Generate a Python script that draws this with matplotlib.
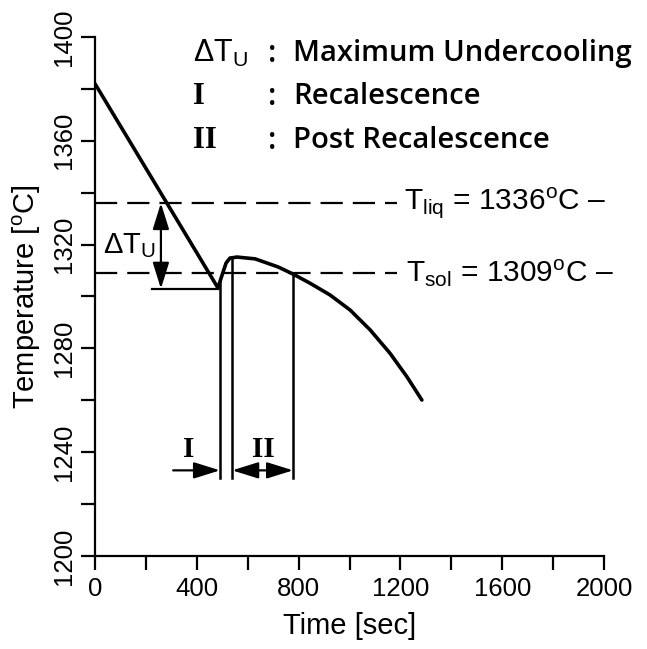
#----------------------------------------------------------------------------------------------------------------------
# Imports

import matplotlib
matplotlib.use("Agg")
import matplotlib.pyplot as plt

plt.rcParams['font.family'] = ['Liberation Sans', 'DejaVu Sans']
plt.rcParams['mathtext.fontset'] = 'custom'
plt.rcParams['mathtext.rm'] = 'Liberation Sans'
plt.rcParams['mathtext.it'] = 'Liberation Sans'

#----------------------------------------------------------------------------------------------------------------------
# Data

curve_t = [0, 483, 503, 515, 530, 558, 629, 719, 779, 845, 923, 1002, 1081, 1159, 1225, 1284]
curve_T = [1382, 1303.3, 1309.4, 1312.9, 1314.8, 1315.2, 1314.5, 1311.4, 1308.6, 1305.1, 1300.6, 1294.8,
           1287.1, 1278.1, 1269.1, 1260.1]

T_liq = 1336
T_sol = 1309
T_min = 1303
t_min = 483
dash_end = 1187

t_dT = 259          # undercooling arrow position
t_I = [307, 491]    # stage I arrow
t_II = [539, 778]   # stage II arrow
T_I_top = 1306
T_II_top = 1315.3
T_bottom = 1230
T_arrow = 1233

legend_sym = [r'$\Delta$T$_\mathrm{U}$', 'I', 'II']
legend_txt = ['Maximum Undercooling', 'Recalescence', 'Post Recalescence']
legend_T = [1393.5, 1377, 1360]

x_ticks = [0, 400, 800, 1200, 1600, 2000]
y_ticks = [1200, 1240, 1280, 1320, 1360, 1400]

#----------------------------------------------------------------------------------------------------------------------
# Figure

fig = plt.figure(figsize=(6.47, 6.49), dpi=100)
ax = fig.add_axes([0.1468, 0.1433, 0.787, 0.7997])

ax.plot(curve_t, curve_T, color='black', lw=2.6, solid_capstyle='round', solid_joinstyle='round')

# liquidus / solidus dashed lines
for T in [T_liq, T_sol]:
    ax.plot([0, dash_end], [T, T], color='black', lw=1.6, dashes=(10, 4.5))
ax.text(1214, T_liq, r'T$_\mathrm{liq}$ = 1336$^\mathrm{o}$C –', fontsize=21.5, va='center')
ax.text(1220, T_sol, r'T$_\mathrm{sol}$ = 1309$^\mathrm{o}$C –', fontsize=21.5, va='center')

# undercooling
ax.plot([t_dT - 35, t_min], [T_min, T_min], color='black', lw=1.6)
ax.annotate('', xy=(t_dT, T_min), xytext=(t_dT, T_liq),
            arrowprops=dict(arrowstyle='<|-|>,head_length=0.8,head_width=0.25', color='black',
                            lw=1.6, shrinkA=0, shrinkB=0, mutation_scale=20))
ax.text(30, 1319.5, r'$\Delta$T$_\mathrm{U}$', fontsize=21, va='center')

# stage boundaries
ax.plot([t_I[1], t_I[1]], [T_bottom, T_I_top], color='black', lw=1.8)
ax.plot([t_II[0], t_II[0]], [T_bottom, T_II_top], color='black', lw=1.8)
ax.plot([t_II[1], t_II[1]], [T_bottom, T_sol], color='black', lw=1.8)
ax.annotate('', xy=(t_I[1], T_arrow), xytext=(t_I[0], T_arrow),
            arrowprops=dict(arrowstyle='-|>,head_length=0.8,head_width=0.25', color='black',
                            lw=1.6, shrinkA=0, shrinkB=0, mutation_scale=20))
ax.annotate('', xy=(t_II[1], T_arrow), xytext=(t_II[0], T_arrow),
            arrowprops=dict(arrowstyle='<|-|>,head_length=0.8,head_width=0.25', color='black',
                            lw=1.6, shrinkA=0, shrinkB=0, mutation_scale=20))
ax.text(367, 1241, 'I', fontsize=21, family='Liberation Serif', weight='bold', ha='center', va='center')
ax.text(662, 1241, 'II', fontsize=21, family='Liberation Serif', weight='bold', ha='center', va='center')

# legend block
for s, txt, T in zip(legend_sym, legend_txt, legend_T):
    if s.startswith('$'):
        ax.text(385, T, s, fontsize=22, va='center')
    else:
        ax.text(385, T, s, fontsize=22, va='center', family='Liberation Serif', weight='bold')
    ax.text(695, T, ':', fontsize=22, va='center', ha='center', family='Open Sans', weight='semibold')
    ax.text(778, T, txt, fontsize=21.1, va='center', family='Open Sans', weight='semibold')

#----------------------------------------------------------------------------------------------------------------------
# Axes

ax.set_xlim(0, 2000)
ax.set_ylim(1200, 1400)
ax.spines['top'].set_visible(False)
ax.spines['right'].set_visible(False)
ax.spines['left'].set_linewidth(1.6)
ax.spines['bottom'].set_linewidth(1.6)

ax.set_xticks(x_ticks)
ax.set_xticks(range(0, 2001, 200), minor=True)
ax.set_yticks(y_ticks)
ax.set_yticks(range(1200, 1401, 20), minor=True)
ax.tick_params(which='both', direction='out', length=10, width=1.6)
ax.tick_params(axis='x', labelsize=18.5, pad=5)
ax.tick_params(axis='y', labelsize=18.5, pad=4)
for lab in ax.get_yticklabels():
    lab.set_rotation(90)
    lab.set_va('center')

ax.set_xlabel('Time [sec]', fontsize=21, labelpad=8)
ax.set_ylabel(r'Temperature [$^\mathrm{o}$C]', fontsize=21, labelpad=6)

fig.savefig('out.png', dpi=100)
